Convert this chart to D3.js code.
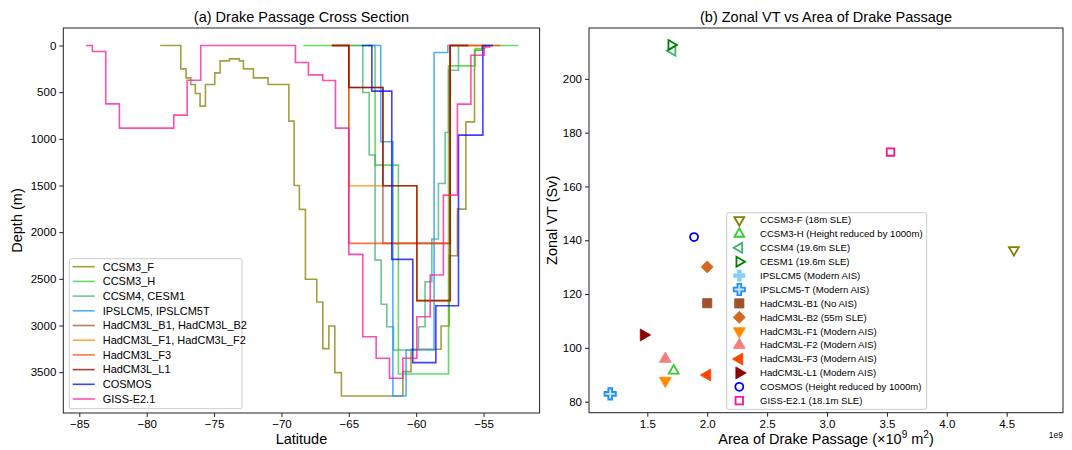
<!DOCTYPE html>
<html>
<head>
<meta charset="utf-8">
<script src="https://cdn.jsdelivr.net/npm/d3@7"></script>
<style>
body { margin: 0; background: #fff; }
svg { font-family: "Liberation Sans", Arial, sans-serif; }
</style>
</head>
<body>
<svg id="chart" width="1072" height="450"></svg>
<script>
/********** data: (a) cross sections, [latitude, depth] steps **********/
var ccsm3F = [[-79.0,0],[-77.47,250],[-77.08,347],[-76.73,418],[-76.39,514],[-76.04,650],[-75.64,418],
    [-74.95,293],[-74.55,165],[-73.86,143],[-73.12,165],[-72.82,250],[-72.08,347],[-70.99,418],[-69.45,810],
    [-69.06,1500],[-68.67,1756],[-68.22,2505],[-67.38,2748],[-66.93,3248],[-66.48,3005],[-66.04,3505],
    [-65.55,3755],[-60.99,3494],[-60.38,3255],[-58.15,3005],[-57.55,2253],[-56.94,1753],[-56.31,818],
    [-55.67,50],[-55.13,0],[-54.8,0]];
var ccsm3H = [[-68.37,0],[-63.05,1282],[-61.32,3519],[-57.6,218],[-55.62,32],[-54.9,0],[-52.42,0]];
var ccsm4 = [[-65.2,0],[-63.96,503],[-63.49,1174],[-63.05,2300],[-62.6,2773],[-62.18,3013],[-61.69,3262],
    [-59.83,3013],[-59.34,2531],[-58.84,2074],[-58.35,1478],[-57.85,932],[-57.6,265],[-56.86,0],[-56.2,0]];
var ipsl = [[-63.6,0],[-62.63,1032],[-61.73,3755],[-60.75,3262],[-58.67,75],[-57.65,0],[-57.0,0]];
var hadB = [[-66.26,0],[-65.0,450],[-62.47,2120],[-57.48,0],[-55.1,0]];
var hadF = [[-66.26,0],[-65.0,1503],[-59.95,2734],[-57.48,0],[-55.6,0]];
var hadF3 = [[-66.26,0],[-65.0,2120],[-57.48,0],[-53.75,0]];
var hadL1 = [[-66.26,0],[-65.0,450],[-62.47,1503],[-59.95,2734],[-57.48,0],[-56.12,0]];
var cosmos = [[-64.03,0],[-63.29,489],[-61.81,2291],[-60.25,3398],[-58.54,2788],[-56.86,960],[-55.05,0],[-54.3,0]];
var giss = [[-84.5,0],[-84.03,64],[-83.04,625],[-82.03,885],[-77.99,746],[-77.0,372],[-75.99,0],[-68.96,182],
    [-68.0,315],[-66.93,375],[-65.99,885],[-65.0,2238],[-63.96,3120],[-62.97,3351],[-61.98,3565],[-60.99,3351],
    [-59.95,2906],[-58.96,2459],[-57.98,1603],[-56.94,628],[-55.94,104],[-54.95,15],[-54.5,15]];

var sectionNames = ["CCSM3_F", "CCSM3_H", "CCSM4, CESM1", "IPSLCM5, IPSLCM5T", "HadCM3L_B1, HadCM3L_B2",
    "HadCM3L_F1, HadCM3L_F2", "HadCM3L_F3", "HadCM3L_L1", "COSMOS", "GISS-E2.1"];
var sectionData = [ccsm3F, ccsm3H, ccsm4, ipsl, hadB, hadF, hadF3, hadL1, cosmos, giss];
var sectionColors = ["olive", "limegreen", "mediumseagreen", "dodgerblue", "sienna",
    "darkorange", "orangered", "darkred", "blue", "deeppink"];

var latTicks = [-85, -80, -75, -70, -65, -60, -55];
var depthTicks = [0, 500, 1000, 1500, 2000, 2500, 3000, 3500];

/********** data: (b) zonal VT vs area **********/
var modelNames = ["CCSM3-F (18m SLE)", "CCSM3-H (Height reduced by 1000m)", "CCSM4 (19.6m SLE)",
    "CESM1 (19.6m SLE)", "IPSLCM5 (Modern AIS)", "IPSLCM5-T (Modern AIS)", "HadCM3L-B1 (No AIS)",
    "HadCM3L-B2 (55m SLE)", "HadCM3L-F1 (Modern AIS)", "HadCM3L-F2 (Modern AIS)", "HadCM3L-F3 (Modern AIS)",
    "HadCM3L-L1 (Modern AIS)", "COSMOS (Height reduced by 1000m)", "GISS-E2.1 (18.1m SLE)"];
var areaValues = [4.56, 1.72, 1.71, 1.70, 1.19, 1.19, 2.0, 2.0, 1.65, 1.65, 2.0, 1.47, 1.89, 3.53];
var vtValues = [136.4, 91.5, 210.4, 212.6, 82.9, 82.9, 116.6, 130.1, 87.8, 95.9, 89.9, 104.8, 141.2, 172.8];
var modelMarkers = ["down", "up", "left", "right", "plus", "plus", "square", "diamond",
    "down", "up", "left", "right", "circle", "square"];
var modelFilled = [false, false, false, false, true, false, true, true, true, true, true, true, false, false];
var modelColors = ["olive", "limegreen", "mediumseagreen", "green", "lightskyblue", "dodgerblue", "sienna",
    "chocolate", "darkorange", "lightcoral", "orangered", "darkred", "blue", "deeppink"];

var areaTicks = [1.5, 2.0, 2.5, 3.0, 3.5, 4.0, 4.5];
var vtTicks = [80, 100, 120, 140, 160, 180, 200];

/********** drawing **********/
var svg = d3.select("#chart");
var minus = function(d) { return d < 0 ? "\u2212" + Math.abs(d) : "" + d; };

// ---- panel (a)
var boxA = {left: 63.3, right: 539.6, top: 28, bottom: 413};
var xL = d3.scaleLinear().domain([-86.19, -50.84]).range([boxA.left, boxA.right]);
var yL = d3.scaleLinear().domain([-187.5, 3937.5]).range([boxA.top, boxA.bottom]);

var gA = svg.append("g");
var stepLine = d3.line()
    .x(function(d) { return xL(d[0]); })
    .y(function(d) { return yL(d[1]); })
    .curve(d3.curveStepAfter);

sectionData.forEach(function(s, i) {
    gA.append("path")
        .attr("d", stepLine(s))
        .attr("fill", "none")
        .attr("stroke", sectionColors[i])
        .attr("stroke-opacity", 0.75)
        .attr("stroke-width", 1.6);
});

gA.append("g")
    .attr("transform", "translate(0," + boxA.bottom + ")")
    .call(d3.axisBottom(xL).tickValues(latTicks).tickFormat(minus).tickSize(4).tickPadding(3))
    .call(function(g) { g.select(".domain").remove(); });
gA.append("g")
    .attr("transform", "translate(" + boxA.left + ",0)")
    .call(d3.axisLeft(yL).tickValues(depthTicks).tickFormat(d3.format("d")).tickSize(4).tickPadding(3))
    .call(function(g) { g.select(".domain").remove(); });

gA.append("rect")
    .attr("x", boxA.left).attr("y", boxA.top)
    .attr("width", boxA.right - boxA.left).attr("height", boxA.bottom - boxA.top)
    .attr("fill", "none").attr("stroke", "#222").attr("stroke-width", 1);

gA.append("text").attr("x", (boxA.left + boxA.right) / 2).attr("y", 22)
    .attr("text-anchor", "middle").attr("font-size", 14.5).text("(a) Drake Passage Cross Section");
gA.append("text").attr("x", (boxA.left + boxA.right) / 2).attr("y", 444)
    .attr("text-anchor", "middle").attr("font-size", 14.5).text("Latitude");
gA.append("text").attr("transform", "translate(22," + (boxA.top + boxA.bottom) / 2 + ") rotate(-90)")
    .attr("text-anchor", "middle").attr("font-size", 14.5).text("Depth (m)");

// legend (a)
var legA = gA.append("g").attr("transform", "translate(69.3,258.7)");
legA.append("rect").attr("width", 172.7).attr("height", 150).attr("rx", 2)
    .attr("fill", "#fff").attr("fill-opacity", 0.8).attr("stroke", "#ccc");
sectionNames.forEach(function(n, i) {
    var yy = 8 + i * 14.7;
    legA.append("line").attr("x1", 3.4).attr("x2", 25.4).attr("y1", yy).attr("y2", yy)
        .attr("stroke", sectionColors[i]).attr("stroke-opacity", 0.75).attr("stroke-width", 1.6);
    legA.append("text").attr("x", 33.4).attr("y", yy).attr("dy", "0.35em")
        .attr("font-size", 11).text(n);
});

// ---- panel (b)
var boxB = {left: 589, right: 1063, top: 28, bottom: 412.7};
var xR = d3.scaleLinear().domain([1.013, 4.97]).range([boxB.left, boxB.right]);
var yR = d3.scaleLinear().domain([75.9, 218.9]).range([boxB.bottom, boxB.top]);
var gB = svg.append("g");

function marker(g, type, x, y, color, filled) {
    var sym, rot = 0, size = 60;
    if (type == "up" || type == "down" || type == "left" || type == "right") {
        sym = d3.symbolTriangle;
        rot = {up: 0, down: 180, left: -90, right: 90}[type];
        size = filled ? 62 : 42;
    } else if (type == "plus") { sym = d3.symbolCross; size = 70; }
    else if (type == "square") { sym = d3.symbolSquare; size = filled ? 85 : 56; }
    else if (type == "diamond") { sym = d3.symbolSquare; rot = 45; size = 72; }
    else { sym = d3.symbolCircle; size = 50; }
    g.append("path")
        .attr("d", d3.symbol().type(sym).size(size)())
        .attr("transform", "translate(" + x + "," + y + ") rotate(" + rot + ")")
        .attr("fill", filled ? color : (type == "plus" ? "#cfe6ff" : "none"))
        .attr("stroke", color)
        .attr("stroke-width", filled ? 0.8 : 1.8)
        .attr("stroke-linejoin", "miter");
}

modelNames.forEach(function(n, i) {
    marker(gB, modelMarkers[i], xR(areaValues[i]), yR(vtValues[i]), modelColors[i], modelFilled[i]);
});

gB.append("g")
    .attr("transform", "translate(0," + boxB.bottom + ")")
    .call(d3.axisBottom(xR).tickValues(areaTicks).tickFormat(d3.format(".1f")).tickSize(4).tickPadding(3))
    .call(function(g) { g.select(".domain").remove(); });
gB.append("g")
    .attr("transform", "translate(" + boxB.left + ",0)")
    .call(d3.axisLeft(yR).tickValues(vtTicks).tickSize(4).tickPadding(3))
    .call(function(g) { g.select(".domain").remove(); });

gB.append("rect")
    .attr("x", boxB.left).attr("y", boxB.top)
    .attr("width", boxB.right - boxB.left).attr("height", boxB.bottom - boxB.top)
    .attr("fill", "none").attr("stroke", "#222").attr("stroke-width", 1);

svg.selectAll(".tick text").attr("font-size", 11.5).attr("fill", "#000")
    .attr("font-family", "Liberation Sans, Arial, sans-serif");
svg.selectAll(".tick line").attr("stroke", "#222");

gB.append("text").attr("x", (boxB.left + boxB.right) / 2).attr("y", 22)
    .attr("text-anchor", "middle").attr("font-size", 14.5).text("(b) Zonal VT vs Area of Drake Passage");
var xl = gB.append("text").attr("x", (boxB.left + boxB.right) / 2).attr("y", 444)
    .attr("text-anchor", "middle").attr("font-size", 14.5);
xl.append("tspan").text("Area of Drake Passage (\u00d710");
xl.append("tspan").attr("dy", -6).attr("font-size", 10).text("9");
xl.append("tspan").attr("dy", 6).text(" m");
xl.append("tspan").attr("dy", -6).attr("font-size", 10).text("2");
xl.append("tspan").attr("dy", 6).text(")");
gB.append("text").attr("transform", "translate(557," + (boxB.top + boxB.bottom) / 2 + ") rotate(-90)")
    .attr("text-anchor", "middle").attr("font-size", 14.5).text("Zonal VT (Sv)");
gB.append("text").attr("x", boxB.right).attr("y", 438)
    .attr("text-anchor", "end").attr("font-size", 8.5).text("1e9");

// legend (b)
var legB = gB.append("g").attr("transform", "translate(726.7,212.7)");
legB.append("rect").attr("width", 200).attr("height", 196.6).attr("rx", 2)
    .attr("fill", "#fff").attr("fill-opacity", 0.8).attr("stroke", "#ccc");
modelNames.forEach(function(n, i) {
    var yy = 7.3 + i * 13.9;
    marker(legB, modelMarkers[i], 12.6, yy, modelColors[i], modelFilled[i]);
    legB.append("text").attr("x", 33.3).attr("y", yy).attr("dy", "0.35em")
        .attr("font-size", 9.6).text(n);
});
</script>
</body>
</html>
